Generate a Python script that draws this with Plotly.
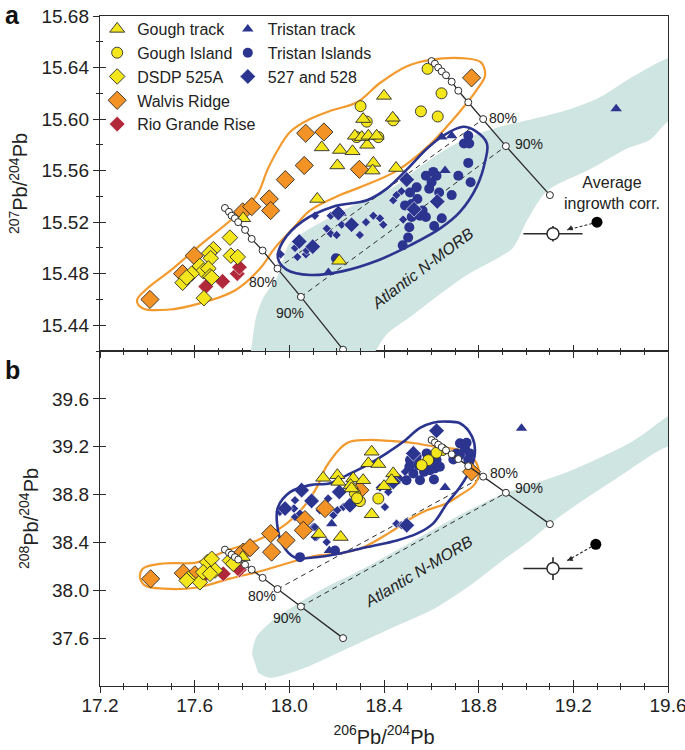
import plotly.graph_objects as go

FONT = "Liberation Sans, Arial, Helvetica, sans-serif"

# ---------------- axes ----------------
x_ticks = [17.2, 17.6, 18.0, 18.4, 18.8, 19.2, 19.6]
ya_ticks = [15.44, 15.48, 15.52, 15.56, 15.60, 15.64, 15.68]
yb_ticks = [37.6, 38.0, 38.4, 38.8, 39.2, 39.6]
x_range = [17.2, 19.6]
ya_range = [15.42, 15.68]
yb_range = [37.2, 40.0]

# ---------------- panel a : 207Pb/204Pb ----------------
a_gough_track_x = [17.805, 18.118, 18.137, 18.214, 18.267, 18.329, 18.203, 18.355, 18.352, 18.451,
                   18.400, 18.312, 18.437, 18.277, 18.306, 18.334, 18.369, 18.211]
a_gough_track_y = [15.523, 15.538, 15.578, 15.576, 15.575, 15.580, 15.564, 15.566, 15.560, 15.562,
                   15.618, 15.600, 15.601, 15.587, 15.586, 15.587, 15.587, 15.490]
a_gough_island_x = [18.584, 18.643, 18.301, 18.556, 18.627, 18.327, 18.439, 18.285, 18.376]
a_gough_island_y = [15.639, 15.620, 15.610, 15.606, 15.602, 15.598, 15.599, 15.586, 15.586]
a_dsdp525_x = [17.749, 17.679, 17.662, 17.668, 17.753, 17.782, 17.622, 17.636, 17.658, 17.665,
               17.587, 17.549, 17.566, 17.639, 17.672]
a_dsdp525_y = [15.508, 15.499, 15.496, 15.492, 15.494, 15.493, 15.486, 15.482, 15.484, 15.478,
               15.480, 15.473, 15.477, 15.461, 15.477]
a_walvis_x = [17.411, 17.549, 17.598, 17.803, 17.841, 17.915, 17.921, 17.983, 18.063, 18.069,
              18.146, 18.296, 18.770]
a_walvis_y = [15.460, 15.480, 15.494, 15.528, 15.532, 15.538, 15.529, 15.553, 15.564, 15.589,
              15.590, 15.561, 15.632]
a_rio_x = [17.647, 17.718, 17.780, 17.789]
a_rio_y = [15.470, 15.474, 15.480, 15.485]
a_tristan_track_x = [18.644, 18.686, 18.658, 18.165, 18.189, 18.218, 19.381]
a_tristan_track_y = [15.586, 15.587, 15.560, 15.481, 15.526, 15.527, 15.608]
a_tristan_isl_x = [18.756, 18.738, 18.760, 18.756, 18.714, 18.766, 18.686, 18.644, 18.612, 18.577,
                   18.608, 18.622, 18.591, 18.633, 18.601, 18.538, 18.510, 18.541, 18.489, 18.517,
                   18.527, 18.552, 18.577, 18.563, 18.517, 18.507, 18.502, 18.479, 18.197]
a_tristan_isl_y = [15.587, 15.581, 15.581, 15.566, 15.556, 15.551, 15.541, 15.523, 15.517, 15.556,
                   15.559, 15.556, 15.546, 15.543, 15.551, 15.547, 15.543, 15.538, 15.533, 15.534,
                   15.528, 15.525, 15.524, 15.529, 15.524, 15.516, 15.508, 15.502, 15.492]
a_site527_x = [18.496, 18.625, 18.527, 18.263, 18.042, 18.099, 18.207]
a_site527_y = [15.553, 15.536, 15.530, 15.518, 15.505, 15.501, 15.527]
a_lit527_x = [18.108, 18.175, 18.175, 18.200, 18.298, 18.324, 18.355, 18.383, 18.397, 18.439,
              18.453, 18.474, 18.024, 18.070, 17.963, 18.034, 18.073, 18.158, 18.221, 18.481]
a_lit527_y = [15.525, 15.525, 15.511, 15.510, 15.510, 15.520, 15.525, 15.523, 15.518, 15.537,
              15.541, 15.544, 15.500, 15.495, 15.495, 15.493, 15.498, 15.515, 15.518, 15.522]

# fields / envelopes (panel a)
a_gough_field_x = [17.906, 17.948, 18.003, 18.087, 18.184, 18.286, 18.383, 18.497, 18.594, 18.750,
                   18.810, 18.827, 18.797, 18.712, 18.581, 18.455, 18.298, 18.214, 18.087, 18.015,
                   17.939, 17.876, 17.770, 17.622, 17.483, 17.382, 17.356, 17.390, 17.508, 17.622,
                   17.762, 17.863, 17.906]
a_gough_field_y = [15.560, 15.575, 15.590, 15.600, 15.607, 15.613, 15.628, 15.641, 15.646, 15.647,
                   15.644, 15.634, 15.624, 15.604, 15.578, 15.560, 15.547, 15.541, 15.529, 15.515,
                   15.500, 15.484, 15.467, 15.457, 15.452, 15.453, 15.459, 15.467, 15.484, 15.502,
                   15.523, 15.541, 15.560]
a_tristan_field_x = [18.734, 18.784, 18.835, 18.827, 18.793, 18.721, 18.636, 18.510, 18.370, 18.227,
                     18.087, 17.990, 17.952, 17.973, 18.058, 18.184, 18.328, 18.412, 18.497, 18.581,
                     18.649, 18.734]
a_tristan_field_y = [15.594, 15.591, 15.581, 15.567, 15.548, 15.528, 15.515, 15.502, 15.490, 15.482,
                     15.479, 15.483, 15.492, 15.505, 15.521, 15.532, 15.537, 15.546, 15.561, 15.577,
                     15.587, 15.594]
a_morb_x = [17.834, 17.846, 17.859, 17.889, 17.948, 17.973, 18.003, 18.227, 18.438, 18.552, 18.666,
            18.776, 18.890, 19.029, 19.173, 19.312, 19.452, 19.595, 19.650, 19.650, 19.600, 19.524,
            19.426, 19.270, 19.088, 19.004, 18.945, 18.860, 18.750, 18.636, 18.522, 18.412, 18.349]
a_morb_y = [15.415, 15.431, 15.446, 15.461, 15.477, 15.491, 15.504, 15.529, 15.547, 15.563, 15.577,
            15.587, 15.594, 15.600, 15.607, 15.617, 15.633, 15.647, 15.650, 15.600, 15.598, 15.584,
            15.577, 15.561, 15.544, 15.521, 15.500, 15.490, 15.479, 15.464, 15.448, 15.433, 15.415]

# mixing lines (same 206Pb/204Pb steps in both panels)
mix_left_x = [17.728, 17.745, 17.756, 17.770, 17.784, 17.813, 17.841, 17.887, 17.950, 18.049, 18.227]
a_mix_left_y = [15.531, 15.528, 15.525, 15.523, 15.520, 15.514, 15.507, 15.498, 15.484, 15.462, 15.421]
mix_right_x = [18.601, 18.615, 18.629, 18.644, 18.662, 18.686, 18.714, 18.756, 18.819, 18.915, 19.101]
a_mix_right_y = [15.645, 15.643, 15.640, 15.637, 15.634, 15.629, 15.622, 15.613, 15.600, 15.579, 15.541]
mix_labels = ["80%", "90%"]
mix_label_index = [8, 9]

# ingrowth correction symbol
ingrowth_x = 19.114
ingrowth_err_x = 0.125
a_ingrowth_y = 15.511
a_ingrowth_err_y = 0.006
a_uncorr_x, a_uncorr_y = 19.300, 15.520
b_ingrowth_y = 38.182
b_ingrowth_err_y = 0.095
b_uncorr_x, b_uncorr_y = 19.295, 38.384

# ---------------- panel b : 208Pb/204Pb ----------------
b_gough_track_x = [18.348, 18.334, 18.376, 18.143, 18.203, 18.207, 18.270, 18.312, 18.259, 18.263,
                   18.439, 18.432, 18.400, 18.348, 18.125, 18.217, 17.803]
b_gough_track_y = [39.158, 39.061, 39.055, 38.940, 38.962, 38.906, 38.935, 38.920, 38.879, 38.851,
                   38.977, 38.920, 38.870, 38.635, 38.470, 38.445, 38.277]
b_gough_island_x = [18.647, 18.622, 18.587, 18.559, 18.376, 18.298, 18.277, 18.286]
b_gough_island_y = [39.172, 39.150, 39.088, 39.046, 38.767, 38.745, 38.809, 38.770]
b_dsdp525_x = [17.653, 17.672, 17.686, 17.573, 17.622, 17.636, 17.749, 17.763, 17.665, 17.566]
b_dsdp525_y = [38.235, 38.263, 38.165, 38.096, 38.067, 38.151, 38.249, 38.222, 38.138, 38.082]
b_walvis_x = [17.414, 17.552, 17.601, 17.805, 17.834, 17.921, 17.986, 17.925, 18.066, 18.059,
              18.151, 18.298, 18.770]
b_walvis_y = [38.096, 38.143, 38.129, 38.319, 38.356, 38.473, 38.417, 38.319, 38.591, 38.501,
              38.683, 38.837, 38.990]
b_rio_x = [17.648, 17.721, 17.789, 17.783]
b_rio_y = [38.138, 38.138, 38.171, 38.181]
b_tristan_track_x = [18.658, 18.179, 18.169, 18.981]
b_tristan_track_y = [38.859, 38.557, 38.333, 39.354]
b_tristan_isl_x = [18.721, 18.749, 18.742, 18.707, 18.721, 18.763, 18.756, 18.693, 18.580, 18.622,
                   18.615, 18.636, 18.611, 18.545, 18.507, 18.495, 18.524, 18.569, 18.453, 18.552,
                   18.594, 18.510, 18.538, 18.045, 18.193]
b_tristan_isl_y = [39.228, 39.233, 39.186, 39.144, 39.130, 39.144, 39.088, 39.094, 39.144, 39.088,
                   39.019, 39.032, 38.926, 39.046, 39.032, 38.920, 38.977, 38.990, 38.920, 38.920,
                   39.004, 39.088, 39.116, 38.277, 38.333]
b_site527_x = [18.622, 18.524, 18.439, 18.211, 18.094, 18.256, 18.496, 18.052, 17.982]
b_site527_y = [39.334, 39.144, 38.906, 38.822, 38.747, 38.711, 38.543, 38.837, 38.683]
b_lit527_x = [18.017, 18.024, 18.101, 18.129, 18.164, 18.186, 18.203, 18.228, 18.383, 18.404,
              18.418, 18.446, 18.467, 18.489, 18.453, 18.474, 18.115, 18.158, 17.960, 18.020,
              18.045, 18.108, 18.108, 18.024]
b_lit527_y = [38.683, 38.613, 38.529, 38.669, 38.767, 38.627, 38.669, 38.696, 38.859, 38.696,
              38.822, 38.962, 38.935, 38.990, 38.557, 38.543, 38.445, 38.403, 38.655, 38.683,
              38.641, 38.529, 38.445, 38.753]

b_gough_field_x = [17.369, 17.382, 17.466, 17.610, 17.737, 17.863, 17.990, 18.066, 18.121, 18.155,
                   18.244, 18.328, 18.425, 18.522, 18.624, 18.721, 18.776, 18.801, 18.780, 18.721,
                   18.666, 18.581, 18.522, 18.425, 18.311, 18.214, 18.117, 18.032, 17.889, 17.749,
                   17.610, 17.466, 17.390, 17.369]
b_gough_field_y = [38.107, 38.182, 38.224, 38.233, 38.333, 38.417, 38.560, 38.711, 38.879, 39.030,
                   39.231, 39.256, 39.248, 39.231, 39.197, 39.172, 39.105, 38.979, 38.879, 38.795,
                   38.728, 38.669, 38.610, 38.484, 38.358, 38.308, 38.291, 38.249, 38.165, 38.098,
                   38.023, 38.014, 38.040, 38.107]
b_tristan_field_x = [18.607, 18.666, 18.721, 18.772, 18.784, 18.763, 18.721, 18.666, 18.607, 18.539,
                     18.455, 18.328, 18.214, 18.100, 18.024, 17.973, 17.948, 17.952, 18.003, 18.087,
                     18.172, 18.244, 18.328, 18.412, 18.480, 18.552, 18.607]
b_tristan_field_y = [39.401, 39.410, 39.396, 39.284, 39.144, 39.004, 38.864, 38.725, 38.557, 38.473,
                     38.417, 38.361, 38.308, 38.274, 38.274, 38.375, 38.560, 38.694, 38.820, 38.879,
                     38.895, 38.962, 39.046, 39.147, 39.239, 39.357, 39.401]
b_morb_x = [17.842, 17.859, 17.918, 18.003, 18.129, 18.298, 18.467, 18.679, 18.890, 19.173, 19.452,
            19.595, 19.650, 19.650, 19.595, 19.384, 19.241, 19.122, 19.017, 18.890, 18.763, 18.620,
            18.434, 18.252, 18.066, 17.918, 17.868]
b_morb_y = [37.469, 37.603, 37.729, 37.847, 37.998, 38.165, 38.350, 38.585, 38.795, 38.987, 39.248,
            39.449, 39.508, 39.197, 39.197, 38.937, 38.753, 38.585, 38.417, 38.233, 38.040, 37.855,
            37.687, 37.519, 37.352, 37.268, 37.310]
b_mix_left_y = [38.340, 38.314, 38.298, 38.277, 38.257, 38.214, 38.172, 38.104, 38.010, 37.864, 37.600]
b_mix_right_y = [39.256, 39.236, 39.217, 39.196, 39.170, 39.137, 39.097, 39.038, 38.950, 38.815, 38.553]

# ---------------- styles ----------------
YELLOW = "#f4e61c"
ORANGE = "#f39225"
RED = "#b2283b"
BLUE = "#2b3590"
MINT = "#cfe5e1"
ORANGE_LINE = "#f39a2e"
DARK = "#2a2a2a"

fig = go.Figure()

PANELS = [
    dict(xa="x2", ya="y2", top=True,
         gt=(a_gough_track_x, a_gough_track_y), gi=(a_gough_island_x, a_gough_island_y),
         ds=(a_dsdp525_x, a_dsdp525_y), wr=(a_walvis_x, a_walvis_y), rg=(a_rio_x, a_rio_y),
         tt=(a_tristan_track_x, a_tristan_track_y), ti=(a_tristan_isl_x, a_tristan_isl_y),
         s5=(a_site527_x, a_site527_y), l5=(a_lit527_x, a_lit527_y),
         gf=(a_gough_field_x, a_gough_field_y), tf=(a_tristan_field_x, a_tristan_field_y),
         mf=(a_morb_x, a_morb_y), ml=a_mix_left_y, mr=a_mix_right_y,
         iy=a_ingrowth_y, iey=a_ingrowth_err_y, ux=a_uncorr_x, uy=a_uncorr_y),
    dict(xa="x", ya="y", top=False,
         gt=(b_gough_track_x, b_gough_track_y), gi=(b_gough_island_x, b_gough_island_y),
         ds=(b_dsdp525_x, b_dsdp525_y), wr=(b_walvis_x, b_walvis_y), rg=(b_rio_x, b_rio_y),
         tt=(b_tristan_track_x, b_tristan_track_y), ti=(b_tristan_isl_x, b_tristan_isl_y),
         s5=(b_site527_x, b_site527_y), l5=(b_lit527_x, b_lit527_y),
         gf=(b_gough_field_x, b_gough_field_y), tf=(b_tristan_field_x, b_tristan_field_y),
         mf=(b_morb_x, b_morb_y), ml=b_mix_left_y, mr=b_mix_right_y,
         iy=b_ingrowth_y, iey=b_ingrowth_err_y, ux=b_uncorr_x, uy=b_uncorr_y),
]

series_style = [
    # key, name, symbol, color, size, outline, legend
    ("tt", "Tristan track", "triangle-up", BLUE, 10, dict(width=0), "legend2"),
    ("ti", "Tristan Islands", "circle", BLUE, 10, dict(width=0), "legend2"),
    ("s5", "527 and 528", "diamond", BLUE, 12, dict(width=0.6, color="white"), "legend2"),
    ("wr", "Walvis Ridge", "diamond", ORANGE, 14, dict(width=0.9, color=DARK), "legend"),
    ("rg", "Rio Grande Rise", "diamond", RED, 12, dict(width=0.6, color="white"), "legend"),
    ("ds", "DSDP 525A", "diamond", YELLOW, 12, dict(width=0.9, color=DARK), "legend"),
    ("gi", "Gough Island", "circle", YELLOW, 11, dict(width=0.9, color=DARK), "legend"),
    ("gt", "Gough track", "triangle-up", YELLOW, 13, dict(width=0.9, color=DARK), "legend"),
]
legend_rank = {"gt": 1, "gi": 2, "ds": 3, "wr": 4, "rg": 5, "tt": 1, "ti": 2, "s5": 3}

for p in PANELS:
    xa, ya = p["xa"], p["ya"]
    # MORB field
    fig.add_trace(go.Scatter(x=p["mf"][0], y=p["mf"][1], xaxis=xa, yaxis=ya, mode="lines",
                             fill="toself", fillcolor=MINT, line=dict(width=0, shape="spline", smoothing=0.8),
                             showlegend=False, hoverinfo="skip"))
    # dashed tie lines
    for i in mix_label_index:
        fig.add_trace(go.Scatter(x=[mix_left_x[i], mix_right_x[i]], y=[p["ml"][i], p["mr"][i]],
                                 xaxis=xa, yaxis=ya, mode="lines",
                                 line=dict(color=DARK, width=1, dash="5px,4px"),
                                 showlegend=False, hoverinfo="skip"))
    # envelopes
    fig.add_trace(go.Scatter(x=p["gf"][0], y=p["gf"][1], xaxis=xa, yaxis=ya, mode="lines",
                             line=dict(color=ORANGE_LINE, width=2.2, shape="spline", smoothing=1.0),
                             showlegend=False, hoverinfo="skip"))
    # small literature diamonds (Sites 527/528)
    fig.add_trace(go.Scatter(x=p["l5"][0], y=p["l5"][1], xaxis=xa, yaxis=ya, mode="markers",
                             marker=dict(symbol="diamond", size=7, color=BLUE, line=dict(width=0.6, color="white")),
                             showlegend=False, hoverinfo="skip"))
    for key, name, sym, col, sz, ol, lg in series_style:
        fig.add_trace(go.Scatter(x=p[key][0], y=p[key][1], xaxis=xa, yaxis=ya, mode="markers",
                                 name=name, legend=lg, legendgroup=key, legendrank=legend_rank[key],
                                 showlegend=p["top"],
                                 marker=dict(symbol=sym, size=sz, color=col, line=ol)))
        if key == "s5":
            fig.add_trace(go.Scatter(x=p["tf"][0], y=p["tf"][1], xaxis=xa, yaxis=ya, mode="lines",
                                     line=dict(color=BLUE, width=2.6, shape="spline", smoothing=1.0),
                                     showlegend=False, hoverinfo="skip"))
    # mixing lines with ticks
    for yy, xx in ((p["ml"], mix_left_x), (p["mr"], mix_right_x)):
        fig.add_trace(go.Scatter(x=xx, y=yy, xaxis=xa, yaxis=ya, mode="lines+markers",
                                 line=dict(color=DARK, width=1.3),
                                 marker=dict(symbol="circle", size=7, color="white",
                                             line=dict(color=DARK, width=1)),
                                 showlegend=False, hoverinfo="skip"))
    # ingrowth correction symbol
    fig.add_trace(go.Scatter(x=[p["ux"], ingrowth_x + 0.06], y=[p["uy"], p["iy"] + (p["uy"] - p["iy"]) * 0.33],
                             xaxis=xa, yaxis=ya, mode="lines",
                             line=dict(color=DARK, width=1.1, dash="3px,2px"),
                             showlegend=False, hoverinfo="skip"))
    fig.add_trace(go.Scatter(x=[p["ux"]], y=[p["uy"]], xaxis=xa, yaxis=ya, mode="markers",
                             marker=dict(size=11, color="black"), showlegend=False, hoverinfo="skip"))
    fig.add_trace(go.Scatter(x=[ingrowth_x], y=[p["iy"]], xaxis=xa, yaxis=ya, mode="markers",
                             marker=dict(size=12, color="white", line=dict(color=DARK, width=1.5)),
                             error_x=dict(type="constant", value=ingrowth_err_x, width=0, thickness=1.6, color=DARK),
                             error_y=dict(type="constant", value=p["iey"], width=0, thickness=1.6, color=DARK),
                             showlegend=False, hoverinfo="skip"))

# dummy traces for inside-tick overlay axes
for xa, ya in (("x3", "y"), ("x4", "y2"), ("x", "y3"), ("x2", "y4")):
    fig.add_trace(go.Scatter(x=[None], y=[None], xaxis=xa, yaxis=ya, showlegend=False, hoverinfo="skip"))

annotations = []
# percentage labels
pct_shift = {  # (panel ya, side, idx) -> (xshift, yshift)
    ("y2", "L", 8): (-15, -13), ("y2", "L", 9): (-11, -16), ("y2", "R", 8): (20, 1), ("y2", "R", 9): (23, 2),
    ("y", "L", 8): (-16, -7), ("y", "L", 9): (-14, -11), ("y", "R", 8): (21, 4), ("y", "R", 9): (23, 5),
}
for p in PANELS:
    for lab, i in zip(mix_labels, mix_label_index):
        for side, xx, yy in (("L", mix_left_x, p["ml"]), ("R", mix_right_x, p["mr"])):
            xs, ys = pct_shift[(p["ya"], side, i)]
            annotations.append(dict(x=xx[i], y=yy[i], xref=p["xa"], yref=p["ya"], text=lab,
                                    showarrow=False, xshift=xs, yshift=ys,
                                    font=dict(size=14, color="#222", family=FONT)))
    # arrow head of ingrowth correction
    annotations.append(dict(x=ingrowth_x + 0.06, y=p["iy"] + (p["uy"] - p["iy"]) * 0.33,
                            xref=p["xa"], yref=p["ya"], ax=7, ay=-3, text="", showarrow=True,
                            arrowhead=2, arrowsize=1, arrowwidth=1.1, arrowcolor=DARK))

annotations += [
    dict(x=18.562, y=15.484, xref="x2", yref="y2", text="<i>Atlantic N-MORB</i>", textangle=-37,
         showarrow=False, font=dict(size=16, color="#222", family=FONT)),
    dict(x=18.545, y=38.159, xref="x", yref="y", text="<i>Atlantic N-MORB</i>", textangle=-31,
         showarrow=False, font=dict(size=16, color="#222", family=FONT)),
    dict(x=19.363, y=15.543, xref="x2", yref="y2", text="Average<br>ingrowth corr.",
         showarrow=False, font=dict(size=16, color="#222", family=FONT)),
    dict(x=-0.171, y=1.026, xref="paper", yref="paper", xanchor="left", yanchor="top",
         text="<b>a</b>", showarrow=False, font=dict(size=25, color="#111", family=FONT)),
    dict(x=-0.171, y=0.495, xref="paper", yref="paper", xanchor="left", yanchor="top",
         text="<b>b</b>", showarrow=False, font=dict(size=25, color="#111", family=FONT)),
]

axis_common = dict(showgrid=False, zeroline=False, linecolor=DARK, linewidth=1.4, automargin=False,
                   tickcolor=DARK, tickwidth=1.3, tickfont=dict(size=19, color="#222", family=FONT))

layout = dict(
    width=685, height=750,
    margin=dict(l=100, r=17, t=16, b=64, autoexpand=False),
    plot_bgcolor="white", paper_bgcolor="white",
    font=dict(family=FONT, color="#222"),
    xaxis=dict(domain=[0, 1], anchor="y", range=x_range, tickvals=x_ticks, tickformat=".1f",
               ticks="outside", ticklen=6, showline=True, mirror=True,
               ticklabelstandoff=-4, ticklabeloverflow="allow",
               minor=dict(dtick=0.1, tick0=17.2, ticks="outside", ticklen=3, tickcolor=DARK, tickwidth=1.1),
               title=dict(text="<sup>206</sup>Pb/<sup>204</sup>Pb", font=dict(size=20, family=FONT), standoff=14),
               **axis_common),
    yaxis=dict(domain=[0, 0.5], anchor="x", range=yb_range, tickvals=yb_ticks, tickformat=".1f",
               ticks="outside", ticklen=6, showline=True, mirror=True,
               title=dict(text="<sup>208</sup>Pb/<sup>204</sup>Pb", font=dict(size=20, family=FONT), standoff=8),
               **axis_common),
    xaxis2=dict(domain=[0, 1], anchor="y2", range=x_range, tickvals=x_ticks, showticklabels=False,
                ticks="outside", ticklen=6, showline=True, mirror=True,
                minor=dict(dtick=0.1, tick0=17.2, ticks="outside", ticklen=3, tickcolor=DARK, tickwidth=1.1),
                **axis_common),
    yaxis2=dict(domain=[0.5, 1], anchor="x2", range=ya_range, tickvals=ya_ticks, tickformat=".2f",
                ticks="outside", ticklen=6, showline=True, mirror=True,
                minor=dict(dtick=0.02, tick0=15.42, ticks="outside", ticklen=3, tickcolor=DARK, tickwidth=1.1),
                title=dict(text="<sup>207</sup>Pb/<sup>204</sup>Pb", font=dict(size=20, family=FONT), standoff=8),
                **axis_common),
    # overlay axes drawing the inner half of the crossing ticks
    xaxis3=dict(overlaying="x", anchor="y", side="bottom", range=x_range, tickvals=x_ticks,
                showticklabels=False, ticks="inside", ticklen=6, showline=False,
                minor=dict(dtick=0.1, tick0=17.2, ticks="inside", ticklen=3, tickcolor=DARK, tickwidth=1.1),
                **axis_common),
    xaxis4=dict(overlaying="x2", anchor="y2", side="bottom", range=x_range, tickvals=x_ticks,
                showticklabels=False, ticks="inside", ticklen=6, showline=False,
                minor=dict(dtick=0.1, tick0=17.2, ticks="inside", ticklen=3, tickcolor=DARK, tickwidth=1.1),
                **axis_common),
    yaxis3=dict(overlaying="y", anchor="x", side="left", range=yb_range, tickvals=yb_ticks,
                showticklabels=False, ticks="inside", ticklen=6, showline=False, **axis_common),
    yaxis4=dict(overlaying="y2", anchor="x2", side="left", range=ya_range, tickvals=ya_ticks,
                showticklabels=False, ticks="inside", ticklen=6, showline=False,
                minor=dict(dtick=0.02, tick0=15.42, ticks="inside", ticklen=3, tickcolor=DARK, tickwidth=1.1),
                **axis_common),
    legend=dict(x=-0.005, y=1.006, xanchor="left", yanchor="top", bgcolor="rgba(0,0,0,0)",
                font=dict(size=16, family=FONT, color="#222"), tracegroupgap=0, itemclick=False),
    legend2=dict(x=0.225, y=1.006, xanchor="left", yanchor="top", bgcolor="rgba(0,0,0,0)",
                 font=dict(size=16, family=FONT, color="#222"), tracegroupgap=0, itemclick=False),
    annotations=annotations,
    showlegend=True,
)
fig.update_layout(**layout)
# the page body would otherwise add an 8 px offset around the figure
fig.write_html("out.html", config={"displayModeBar": False},
               post_script="document.body.style.margin='0';")
